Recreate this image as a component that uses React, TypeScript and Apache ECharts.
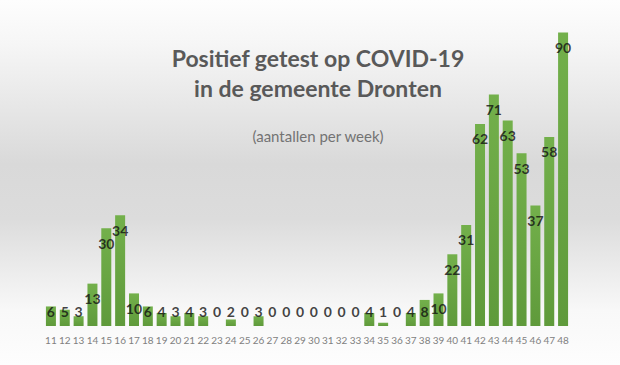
import React, { useEffect, useRef } from "react";
import * as echarts from "echarts";

const weeks: string[] = [
  "11","12","13","14","15","16","17","18","19","20","21","22","23","24","25","26","27","28","29",
  "30","31","32","33","34","35","36","37","38","39","40","41","42","43","44","45","46","47","48",
];
const cases: number[] = [
  6, 5, 3, 13, 30, 34, 10, 6, 4, 3, 4, 3, 0, 2, 0, 3, 0, 0, 0,
  0, 0, 0, 0, 4, 1, 0, 4, 8, 10, 22, 31, 62, 71, 63, 53, 37, 58, 90,
];
const titleLines: string[] = ["Positief getest op COVID-19", "in de gemeente Dronten"];
const subtitle = "(aantallen per week)";

export default function App() {
  const ref = useRef<HTMLDivElement>(null);
  useEffect(() => {
    if (!ref.current) return;
    const chart = echarts.init(ref.current, null, { renderer: "svg" });
    const labelPos = cases.map((v, i) => [i, Math.max(v - 4.6, 4.3), v]);
    chart.setOption({
      animation: false,
      backgroundColor: {
        type: "linear", x: 0, y: 0, x2: 0, y2: 1,
        colorStops: [
          { offset: 0, color: "#fdfdfd" },
          { offset: 0.12, color: "#f6f6f6" },
          { offset: 0.45, color: "#d9d9d9" },
          { offset: 0.6, color: "#dcdcdc" },
          { offset: 0.85, color: "#f8f8f8" },
          { offset: 1, color: "#fdfdfd" },
        ],
      },
      graphic: [
        {
          type: "text", x: 318, y: 73,
          style: {
            text: titleLines.join("\n"), textAlign: "center", textVerticalAlign: "middle",
            font: "bold 23px Lato", fill: "#595959", lineHeight: 30,
          },
        },
        {
          type: "text", x: 318, y: 136,
          style: {
            text: subtitle, textAlign: "center", textVerticalAlign: "middle",
            font: "15px Lato", fill: "#737373",
          },
        },
      ],
      grid: { left: 44, right: 50, top: 0, bottom: 39 },
      xAxis: {
        type: "category",
        data: weeks,
        axisLine: { show: false },
        axisTick: { show: false },
        axisLabel: { color: "#808080", fontSize: 10, fontFamily: "Lato", margin: 9, interval: 0 },
      },
      yAxis: {
        type: "value", min: 0, max: 100,
        show: false,
        splitLine: { show: false },
      },
      series: [
        {
          type: "bar",
          data: cases,
          barWidth: 10,
          itemStyle: {
            color: {
              type: "linear", x: 0, y: 0, x2: 0, y2: 1,
              colorStops: [
                { offset: 0, color: "#73b04b" },
                { offset: 1, color: "#5f9a3b" },
              ],
            },
          },
        },
        {
          type: "scatter",
          data: labelPos,
          symbolSize: 0,
          silent: true,
          label: {
            show: true,
            position: "inside",
            formatter: (p: any) => String(p.value[2]),
            fontFamily: "Lato", fontWeight: "bold", fontSize: 14, color: "#111111",
          },
        },
      ],
    });
    return () => chart.dispose();
  }, []);
  return <div ref={ref} style={{ position: "fixed", left: 0, top: 0, width: 620, height: 365 }} />;
}
